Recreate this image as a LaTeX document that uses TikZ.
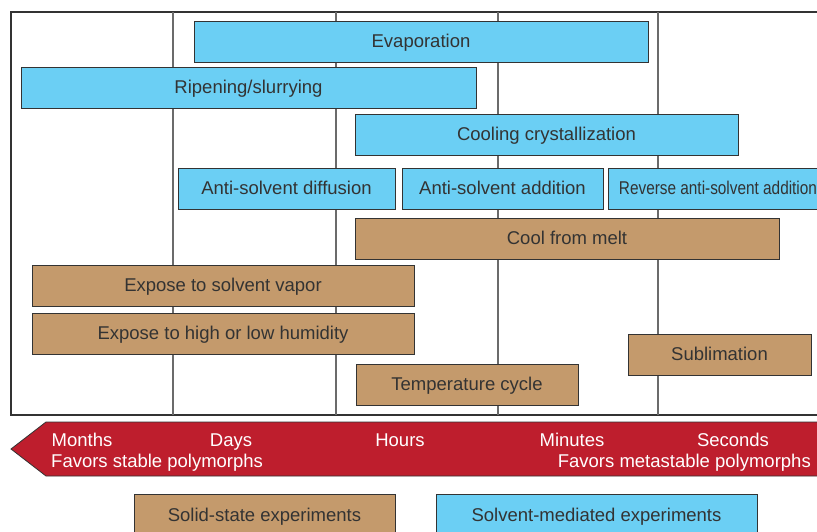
\documentclass[tikz,border=0pt]{standalone}
\usepackage{fontspec}
\setmainfont{Liberation Sans}
\definecolor{solvblue}{HTML}{6BCFF4}
\definecolor{solidtan}{HTML}{C49A6C}
\definecolor{timered}{HTML}{BE1E2D}
\definecolor{txtgray}{HTML}{333333}
\definecolor{lngray}{HTML}{6B6B6B}
\tikzset{
  labbox/.style={draw=txtgray, line width=1pt, text=txtgray, inner sep=0pt,
    minimum height=41pt, text height=11pt, text depth=0pt,
    font=\fontsize{18.5}{22}\selectfont},
  solvbox/.style={labbox, fill=solvblue},
  solidbox/.style={labbox, fill=solidtan},
  timelab/.style={text=white, inner sep=0pt, text height=12pt, text depth=0pt,
    font=\fontsize{18.5}{22}\selectfont}
}
\begin{document}
\begin{tikzpicture}[x=1pt, y=-1pt]
        \clip (0,0) rectangle (817,531);
        \fill[white] (0,0) rectangle (817,531);
        % frame and time divisions
        \draw[txtgray, line width=1.2pt] (830,12) -- (11,12) -- (11,415) -- (830,415);
        \foreach \xg in {173,336,498,658}
          \draw[lngray, line width=1.4pt] (\xg,12) -- (\xg,415);
        % solvent-mediated methods
        \node[solvbox, minimum width=454pt] (evap) at (421,41.5) {Evaporation};
        \node[solvbox, minimum width=455pt] (ripen) at (248.5,87.5) {Ripening/slurrying};
        \node[solvbox, minimum width=383pt] (cool) at (546.5,134.5) {Cooling crystallization};
        \node[solvbox, minimum width=217pt] (asdiff) at (286.5,188.5) {Anti-solvent diffusion};
        \node[solvbox, minimum width=216pt, anchor=west] (revadd) at (608,188.5)
          {\hspace{3pt}\scalebox{0.83}[1]{Reverse anti-solvent addition}\hfill};
        \node[solvbox, minimum width=201pt] (asadd) at (502.5,188.5) {Anti-solvent addition};
        % solid-state methods
        \node[solidbox, minimum width=424pt] (melt) at (567,238.5) {Cool from melt};
        \node[solidbox, minimum width=382pt] (vapor) at (223,285.5) {Expose to solvent vapor};
        \node[solidbox, minimum width=382pt] (humid) at (223,333.5) {Expose to high or low humidity};
        \node[solidbox, minimum width=183pt] (subl) at (719.5,354.5) {Sublimation};
        \node[solidbox, minimum width=222pt] (tcycle) at (467,384.5) {Temperature cycle};
        % time arrow
        \draw[txtgray, fill=timered, line width=0.8pt]
          (830,422) -- (46,422) -- (11,449) -- (46,476) -- (830,476);
        \node[timelab] (months) at (82,440) {Months};
        \node[timelab] (days) at (231,440) {Days};
        \node[timelab] (hours) at (400,440) {Hours};
        \node[timelab] (minutes) at (572,440) {Minutes};
        \node[timelab] (seconds) at (733,440) {Seconds};
        \node[timelab, anchor=west] (stable) at (51,461) {Favors stable polymorphs};
        \node[timelab, anchor=east] (meta) at (811,461) {Favors metastable polymorphs};
        % legend
        \node[solidbox, minimum width=261pt, minimum height=50pt] (legsolid) at (264.5,519) {};
        \node[solvbox, minimum width=321pt, minimum height=50pt] (legsolv) at (596.5,519) {};
        \node[labbox, draw=none] (legsolidtxt) at (264.5,516) {Solid-state experiments};
        \node[labbox, draw=none] (legsolvtxt) at (596.5,516) {Solvent-mediated experiments};
\end{tikzpicture}
\end{document}
